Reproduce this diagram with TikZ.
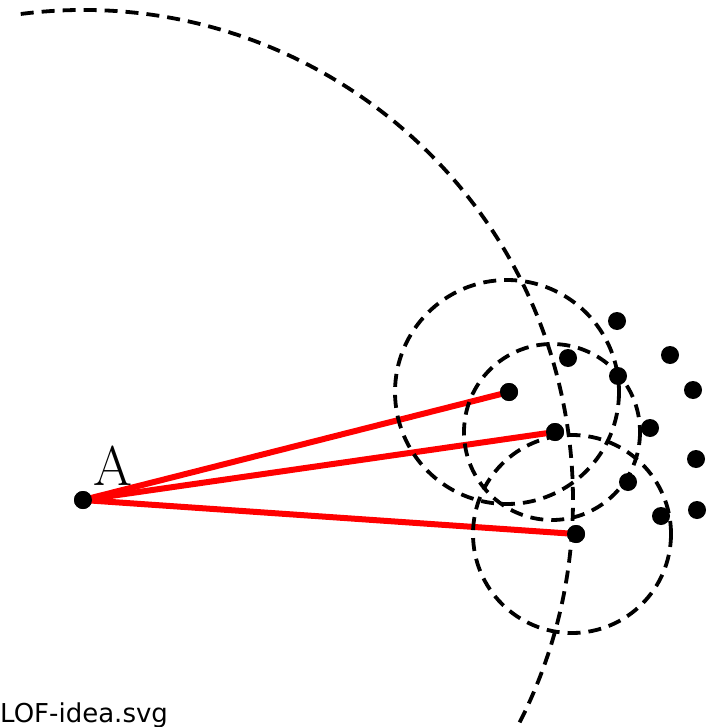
\documentclass[tikz,border=0pt]{standalone}
\usepackage{fontspec}
\newfontfamily\labelsans{DejaVu Sans}
\begin{document}
\begin{tikzpicture}[x=1pt,y=-1pt,
  dashcirc/.style={draw=black,line width=3.8pt,dash pattern=on 13pt off 8pt},
  reach/.style={draw=red,line width=6pt},
  pt/.style={circle,fill=black,inner sep=0pt,minimum size=18pt}]
\useasboundingbox (0,0) rectangle (714,727);
\clip (0,0) rectangle (714,727);
% named points
\node[pt] (A) at (83,500) {};
\node[pt] (p1) at (509,392) {};
\node[pt] (p2) at (555,432) {};
\node[pt] (p3) at (576,534) {};
% reachability lines
\draw[reach] (A.center) -- (p1.center);
\draw[reach] (A.center) -- (p2.center);
\draw[reach] (A.center) -- (p3.center);
% dashed circles
\draw[dashcirc] (507,392) circle[radius=112];
\draw[dashcirc] (552,432) circle[radius=88];
\draw[dashcirc] (572,534) circle[radius=99];
% big arc around A (y axis points down, so angles are negated)
\draw[dashcirc] (A.center) ++(-97.3:490) arc[start angle=-97.3,end angle=30,radius=490];
% redraw dots on top
\node[pt] at (A) {};
\node[pt] at (p1) {};
\node[pt] at (p2) {};
\node[pt] at (p3) {};
% other points
\node[pt] (q1) at (617,321) {};
\node[pt] (q2) at (568,358) {};
\node[pt] (q3) at (670,355) {};
\node[pt] (q4) at (618,376) {};
\node[pt] (q5) at (693,390) {};
\node[pt] (q6) at (650,428) {};
\node[pt] (q7) at (696,459) {};
\node[pt] (q8) at (628,482) {};
\node[pt] (q9) at (661,516) {};
\node[pt] (q10) at (697,510) {};
% labels
\node[anchor=base,inner sep=0pt,font=\fontsize{56}{56}\selectfont] (lA) at (113,485) {A};
\node[anchor=base west,inner sep=0pt,font=\labelsans\fontsize{26}{26}\selectfont] (fn) at (0,722) {LOF-idea.svg};
\end{tikzpicture}
\end{document}
